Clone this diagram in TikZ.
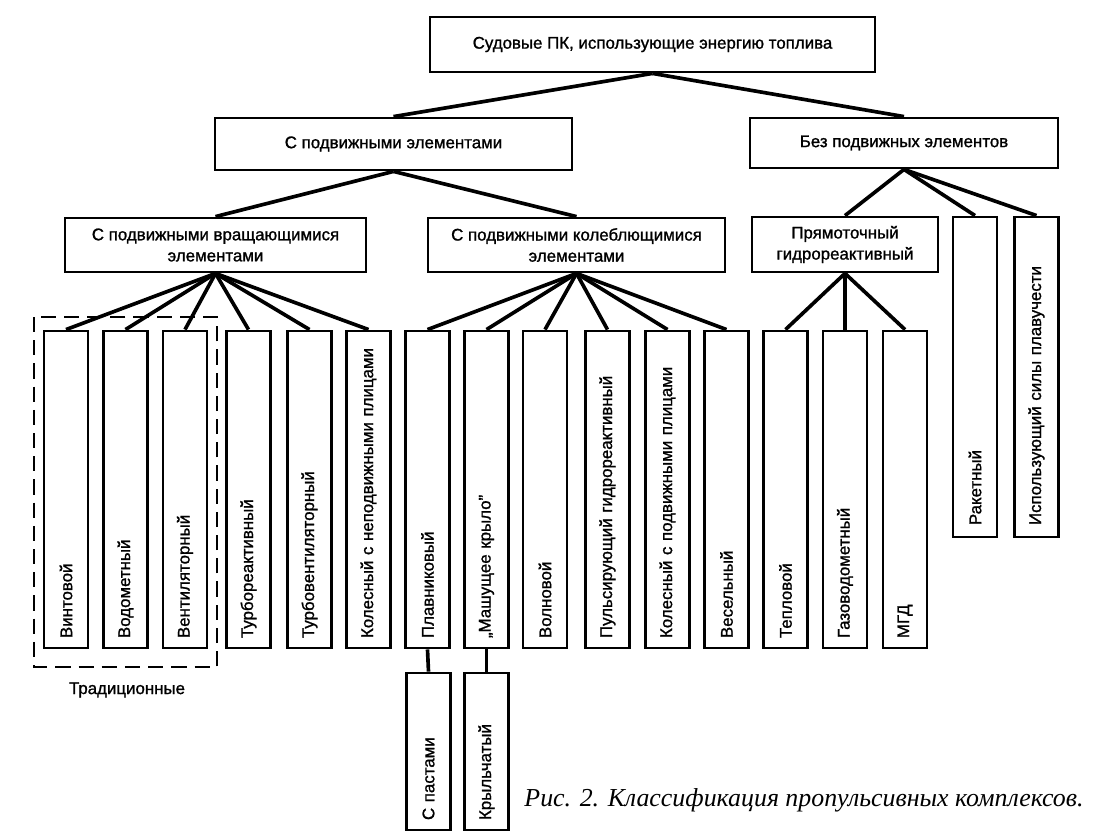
\documentclass[tikz,border=0pt]{standalone}
\usepackage{fontspec}
\setmainfont{Liberation Sans}[BoldFont = Liberation Sans, BoldFeatures = {FakeBold = 1.2}]
\newfontfamily\capfont{Liberation Serif}
\usepackage{tikz}

\tikzset{
	box/.style = {draw, line width = 2pt, inner sep = 0pt, align = center, font = \bfseries\fontsize{12}{15}\selectfont},
	leaf/.style = {box, rotate = 90, minimum height = 1.1cm, minimum width = 7.925cm, inner xsep = 0.25cm, text width = 7.425cm, align = left},
	tallleaf/.style = {leaf, minimum width = 8cm, text width = 7.4cm, inner xsep = 0.3cm},
	subleaf/.style = {leaf, minimum width = 3.925cm, text width = 3.425cm},
	link/.style = {line width = 2.6pt}
}

\begin{document}
\begin{tikzpicture}[x = 0.025cm, y = -0.025cm]
					\useasboundingbox (0,0) rectangle (1098,835);

					\node [box, minimum width = 11.125cm, minimum height = 1.375cm] (fuel) at (652.5,44.5) {Судовые ПК, использующие энергию топлива};

					\node [box, minimum width = 8.925cm, minimum height = 1.3cm] (moving) at (393.5,144) {С подвижными элементами};
					\node [box, minimum width = 7.7cm, minimum height = 1.25cm] (static) at (904,143) {Без подвижных элементов};

					\node [box, minimum width = 7.525cm, minimum height = 1.35cm] (rotating) at (215.5,245) {С подвижными вращающимися\\элементами};
					\node [box, minimum width = 7.425cm, minimum height = 1.35cm] (swinging) at (576.5,245) {С подвижными колеблющимися\\элементами};
					\node [box, minimum width = 4.65cm, minimum height = 1.375cm] (ramjet) at (845,244.5) {Прямоточный\\гидрореактивный};

					\node [tallleaf] (rocket) at (975,377) {Ракетный};
					\node [tallleaf] (buoyant) at (1036.5,377) {Использующий силы плавучести};

					\foreach \name/\x/\txt in {screw/66/Винтовой, waterjet/125.5/Водометный, fan/185/Вентиляторный,
						turbojet/248.5/Турбореактивный, turbofan/309.5/Турбовентиляторный, fixedwheel/368.5/Колесный с неподвижными плицами,
						fin/427.5/Плавниковый, wing/486.5/{,,Машущее крыло''}, wave/545/Волновой,
						pulse/607.5/Пульсирующий гидрореактивный, movwheel/667.5/Колесный с подвижными плицами, oar/726.5/Весельный,
						thermal/785.5/Тепловой, gasjet/845/Газоводометный, mhd/905/МГД}
					{
						\node [leaf] (\name) at (\x,489.5) {\txt};
					}

					\node [subleaf] (blades) at (428.5,751.5) {С пастами};
					\node [subleaf] (vane) at (486.5,751.5) {Крыльчатый};

					\begin{scope}[link]
						\draw (fuel.south) -- (moving.north);
						\draw (fuel.south) -- (static.north);
						\draw (moving.south) -- (rotating.north);
						\draw (moving.south) -- (swinging.north);
						\foreach \c in {ramjet.north, rocket.east, buoyant.east}
						{
							\draw (static.south) -- (\c);
						}
						\foreach \c in {screw, waterjet, fan, turbojet, turbofan, fixedwheel}
						{
							\draw (rotating.south) -- (\c.east);
						}
						\foreach \c in {fin, wing, wave, pulse, movwheel, oar}
						{
							\draw (swinging.south) -- (\c.east);
						}
						\foreach \c in {thermal, gasjet, mhd}
						{
							\draw (ramjet.south) -- (\c.east);
						}
						\draw (fin.west) -- (blades.east);
						\draw (wing.west) -- (vane.east);
					\end{scope}

					\draw [line width = 2pt, dash pattern = on 0.38cm off 0.2cm] (34,317) rectangle (217,667);
					\node [font = \bfseries\fontsize{12}{15}\selectfont] (trad) at (127,690) {Традиционные};

					\node [font = \capfont\itshape\fontsize{18.4}{22}\selectfont] (caption) at (804,800) {Рис. 2. Классификация пропульсивных комплексов.};
				\end{tikzpicture}
\end{document}
